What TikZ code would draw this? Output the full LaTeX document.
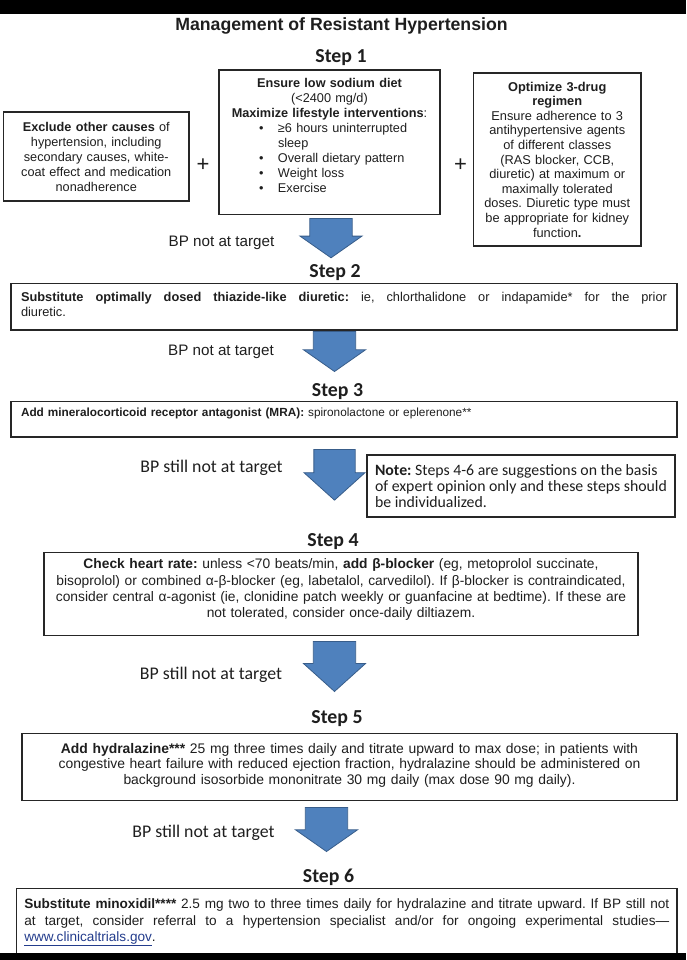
\documentclass[tikz,border=0pt]{standalone}
\usepackage{fontspec}
\setmainfont{Liberation Sans}
\newfontfamily\calibrifont{Carlito}
\usetikzlibrary{shapes.arrows}
\definecolor{arrowblue}{RGB}{79,129,189}
\definecolor{arrowedge}{RGB}{56,93,138}
\definecolor{linkblue}{RGB}{35,60,140}
\definecolor{textgray}{RGB}{30,30,30}
\frenchspacing

\begin{document}
\begin{tikzpicture}[x=1pt,y=-1pt]
    \tikzstyle{box}=[rectangle,draw=black!85,line width=1.1pt,inner xsep=0pt,inner ysep=0pt,text=textgray]
    \tikzstyle{heading}=[anchor=base,text=textgray,font=\bfseries\fontsize{17.7}{20}\selectfont]
    \tikzstyle{steplabel}=[text=textgray,font=\calibrifont\bfseries\fontsize{19.8}{22}\selectfont]
    \tikzstyle{bplabel}=[text=textgray,font=\fontsize{15.2}{18}\selectfont]
    \tikzstyle{bpstill}=[text=textgray,font=\calibrifont\fontsize{17.8}{20}\selectfont]
    \tikzstyle{plussign}=[text=textgray,font=\fontsize{22}{24}\selectfont]
    \tikzstyle{bigarrow}=[single arrow,draw=arrowedge,fill=arrowblue,line width=0.8pt,rotate=-90,anchor=tip,minimum width=62pt,inner xsep=0pt,inner ysep=15pt]
    \useasboundingbox (0,0) rectangle (686,960);
    \node (title) at (341.5,30.7) [heading] {Management of Resistant Hypertension};
    % step 1
    \node (step1) at (341,57.4) [steplabel] {Step 1};
    \node (exclude) at (96.25,156.5) [box,minimum width=185.5pt,minimum height=89pt,text width=185.5pt,align=center,font=\fontsize{12.7}{15}\selectfont]
        {\textbf{Exclude other causes} of\\hypertension, including\\secondary causes, white-\\coat effect and medication\\nonadherence};
    \node (plus1) at (203,165) [plussign] {+};
    \node (lifestyle) at (329.5,142.25) [box,minimum width=221pt,minimum height=144.5pt,text width=221pt,align=center,font=\fontsize{12.7}{15}\selectfont]
        {\textbf{Ensure low sodium diet}\\(<2400 mg/d)\\\textbf{Maximize lifestyle interventions}:\par
        \raggedright\leftskip=40pt
        \makebox[19pt][l]{\textbullet}≥6 hours uninterrupted\\
        \hspace*{19pt}sleep\\
        \makebox[19pt][l]{\textbullet}Overall dietary pattern\\
        \makebox[19pt][l]{\textbullet}Weight loss\\
        \makebox[19pt][l]{\textbullet}Exercise\par\vspace{13pt}};
    \node (plus2) at (460.5,165) [plussign] {+};
    \node (regimen) at (557.25,159.5) [box,minimum width=167.5pt,minimum height=173pt,text width=167.5pt,align=center,font=\fontsize{12.8}{14.6}\selectfont]
        {\textbf{Optimize 3-drug}\\\textbf{regimen}\\Ensure adherence to 3\\antihypertensive agents\\of different classes\\(RAS blocker, CCB,\\diuretic) at maximum or\\maximally tolerated\\doses. Diuretic type must\\be appropriate for kidney\\function\textbf{.}};
    \node (bp1) at (221.5,243) [bplabel] {BP not at target};
    \node (arrow1) at (331,258.3) [bigarrow,minimum height=39.3pt,single arrow tip angle=110] {};
    % step 2
    \node (step2) at (335,272.5) [steplabel] {Step 2};
    \node (thiazide) at (344,306.75) [box,minimum width=666pt,minimum height=46.5pt,text width=646pt,inner xsep=10pt,align=justify,font=\fontsize{12.8}{15}\selectfont]
        {\textbf{Substitute optimally dosed thiazide-like diuretic:} ie, chlorthalidone or indapamide* for the prior\linebreak diuretic.\par\vspace{5pt}};
    \node (bp2) at (221,351.7) [bplabel] {BP not at target};
    \node (arrow2) at (334.5,372) [bigarrow,minimum height=40pt,single arrow tip angle=110] {};
    % step 3
    \node (step3) at (337.5,392) [steplabel] {Step 3};
    \node (mra) at (344,419.35) [box,minimum width=666pt,minimum height=35.3pt,text width=646pt,inner xsep=10pt,align=left,font=\fontsize{11.8}{15}\selectfont]
        {\textbf{Add mineralocorticoid receptor antagonist (MRA):} spironolactone or eplerenone**\par\vspace{12pt}};
    \node (bp3) at (211.5,468.3) [bpstill] {BP still not at target};
    \node (arrow3) at (334.5,500.7) [bigarrow,minimum width=61pt,inner ysep=14.5pt,minimum height=50.7pt,single arrow tip angle=96] {};
    \node (note) at (521,486) [box,minimum width=302pt,minimum height=62pt,inner xsep=8pt,align=left,font=\calibrifont\fontsize{15.8}{16}\selectfont]
        {\textbf{Note:} Steps 4-6 are suggestions on the basis\\of expert opinion only and these steps should\\be individualized.};
    % step 4
    \node (step4) at (333,542) [steplabel] {Step 4};
    \node (betablocker) at (341,594) [box,minimum width=594pt,minimum height=83.4pt,text width=594pt,align=center,font=\fontsize{13.8}{16.3}\selectfont]
        {\textbf{Check heart rate:} unless <70 beats/min, \textbf{add β-blocker} (eg, metoprolol succinate,\\bisoprolol) or combined α-β-blocker (eg, labetalol, carvedilol). If β-blocker is contraindicated,\\consider central α-agonist (ie, clonidine patch weekly or guanfacine at bedtime). If these are\\not tolerated, consider once-daily diltiazem.\par\vspace{8.6pt}};
    \node (bp4) at (211,675) [bpstill] {BP still not at target};
    \node (arrow4) at (334.5,692) [bigarrow,minimum height=50pt,single arrow tip angle=96] {};
    % step 5
    \node (step5) at (337,719) [steplabel] {Step 5};
    \node (hydralazine) at (349.5,767) [box,minimum width=655pt,minimum height=67.4pt,text width=655pt,align=center,font=\fontsize{13.9}{15.4}\selectfont]
        {\textbf{Add hydralazine***} 25 mg three times daily and titrate upward to max dose; in patients with\\congestive heart failure with reduced ejection fraction, hydralazine should be administered on\\background isosorbide mononitrate 30 mg daily (max dose 90 mg daily).\par\vspace{3.6pt}};
    \node (bp5) at (203.5,833.3) [bpstill] {BP still not at target};
    \node (arrow5) at (326.5,852) [bigarrow,minimum height=44pt,single arrow tip angle=110] {};
    % step 6
    \node (step6) at (328.5,877) [steplabel] {Step 6};
    \node (minoxidil) at (346.75,923.5) [box,minimum width=660.5pt,minimum height=70pt,text width=645pt,inner xsep=7.75pt,align=justify,font=\fontsize{13.6}{16.3}\selectfont]
        {\textbf{Substitute minoxidil****} 2.5 mg two to three times daily for hydralazine and titrate upward. If BP still not\linebreak at target, consider referral to a hypertension specialist and/or for ongoing experimental studies—\linebreak\textcolor{linkblue}{\underline{www.clinicaltrials.gov}}.\par\vspace{2pt}};
    % black bands of the screenshot
    \fill[black] (0,0) rectangle (686,14);
    \fill[black] (0,952.5) rectangle (686,960);
\end{tikzpicture}
\end{document}
